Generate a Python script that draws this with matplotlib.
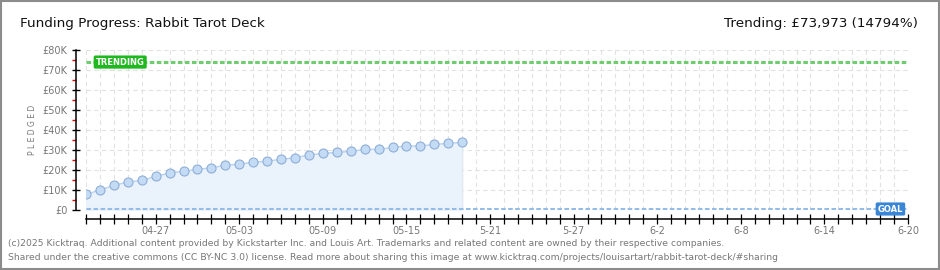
import numpy as np
import matplotlib.pyplot as plt
import matplotlib.dates as mdates
from matplotlib.ticker import FixedLocator, MultipleLocator, FuncFormatter

# daily pledged totals (GBP), 2025-04-22 .. 2025-05-19
start_day = np.datetime64('2025-04-22')
pledged = [7800, 10000, 12300, 14000, 14800, 16800, 18500, 19300, 20300, 21200,
           22300, 23000, 23800, 24500, 25300, 26200, 27500, 28300, 28800, 29300,
           30300, 30300, 31300, 32000, 32000, 32800, 33300, 33800]
days = start_day + np.arange(len(pledged))
end_day = np.datetime64('2025-06-20')

trending = 73973
goal = 500
tick_days = ['2025-04-27', '2025-05-03', '2025-05-09', '2025-05-15', '2025-05-21',
             '2025-05-27', '2025-06-02', '2025-06-08', '2025-06-14', '2025-06-20']
tick_labels = ['04-27', '05-03', '05-09', '05-15', '5-21', '5-27', '6-2', '6-8', '6-14', '6-20']

W, H = 940, 270
fig = plt.figure(figsize=(W / 100, H / 100), dpi=100)
fig.patch.set_facecolor('white')

# outer frame
fig.add_artist(plt.Rectangle((0.001, 0.002), 0.998, 0.995, transform=fig.transFigure,
                             fill=False, edgecolor='#8c8c8c', linewidth=1.5))

ax = fig.add_axes([86 / W, (H - 210) / H, (908 - 86) / W, 160 / H])
ax.set_facecolor('white')

x = mdates.date2num(days.astype('datetime64[D]').astype(object))
x0 = mdates.date2num(start_day.astype(object))
x1 = mdates.date2num(end_day.astype(object))
ax.set_xlim(x0, x1)
ax.set_ylim(0, 80000)

# grid
ax.xaxis.set_minor_locator(MultipleLocator(1))
ax.yaxis.set_major_locator(MultipleLocator(10000))
ax.yaxis.set_minor_locator(MultipleLocator(5000))
ax.grid(True, which='major', axis='y', color='#e2e2e2', linestyle=(0, (4, 3)), linewidth=0.8)
ax.grid(True, which='minor', axis='x', color='#e2e2e2', linestyle=(0, (4, 3)), linewidth=0.8)
ax.set_axisbelow(True)

# pledged series
ax.fill_between(x, pledged, 0, color='#eaf2fc', zorder=2)
ax.plot([x[-1], x[-1]], [0, pledged[-1]], color='#e0e8f2', linewidth=0.8, zorder=2)
ax.plot(x, pledged, color='#b8d3f2', linewidth=1, zorder=3)
ax.plot(x, pledged, linestyle='none', marker='o', markersize=6.5,
        markerfacecolor='#c4dbf6', markeredgecolor='#8eaed6', markeredgewidth=0.8, zorder=4)

# trending and goal lines
ax.axhline(trending, color='#70cc70', linestyle=(0, (1.5, 0.8)), linewidth=2.2, zorder=3)
ax.axhline(goal, color='#94bce8', linestyle=(0, (1.5, 0.8)), linewidth=2.2, zorder=3)
ax.text(x0 + 0.7, trending, 'TRENDING', color='white', fontsize=6, fontweight='bold',
        va='center', ha='left', zorder=6,
        bbox=dict(boxstyle='round,pad=0.25,rounding_size=0.2', facecolor='#1fb81f', edgecolor='none'))
ax.text(x1 - 0.35, goal, 'GOAL', color='white', fontsize=6, fontweight='bold',
        va='center', ha='right', zorder=6,
        bbox=dict(boxstyle='round,pad=0.25,rounding_size=0.2', facecolor='#3a86d6', edgecolor='none'))

# spines
for s in ['top', 'right']:
    ax.spines[s].set_visible(False)
ax.spines['left'].set_position(('outward', 7.2))
ax.spines['bottom'].set_position(('outward', 6.8))
ax.spines['left'].set_linewidth(1.1)
ax.spines['bottom'].set_linewidth(1.1)

ax.yaxis.set_major_formatter(FuncFormatter(lambda v, p: '£0' if v == 0 else '£%dK' % (v / 1000)))
ax.tick_params(axis='y', which='major', direction='inout', length=6, width=1.0,
               labelsize=7, labelcolor='#777777', pad=3)
ax.tick_params(axis='y', which='minor', direction='out', length=3, width=1.0, color='#dd0000')

ax.xaxis.set_major_locator(FixedLocator(mdates.date2num(
    [np.datetime64(d).astype(object) for d in tick_days])))
ax.set_xticklabels(tick_labels)
ax.tick_params(axis='x', which='both', direction='inout', length=7, width=0.9,
               labelsize=7, labelcolor='#777777', pad=1)

ax.set_ylabel('P L E D G E D', fontsize=5.5, color='#777777', labelpad=4)

# titles and footer
fig.text(20 / W, 1 - 24 / H, 'Funding Progress: Rabbit Tarot Deck', fontsize=9.7,
         color='#111111', va='center', ha='left')
fig.text(918 / W, 1 - 24 / H, 'Trending: £73,973 (14794%)', fontsize=9.7,
         color='#111111', va='center', ha='right')
fig.text(8 / W, 1 - 244 / H,
         '(c)2025 Kicktraq. Additional content provided by Kickstarter Inc. and Louis Art. '
         'Trademarks and related content are owned by their respective companies.',
         fontsize=6.65, color='#777777', va='center', ha='left')
fig.text(8 / W, 1 - 257 / H,
         'Shared under the creative commons (CC BY-NC 3.0) license. Read more about sharing this '
         'image at www.kicktraq.com/projects/louisartart/rabbit-tarot-deck/#sharing',
         fontsize=6.65, color='#777777', va='center', ha='left')

fig.savefig('out.png', dpi=100)
